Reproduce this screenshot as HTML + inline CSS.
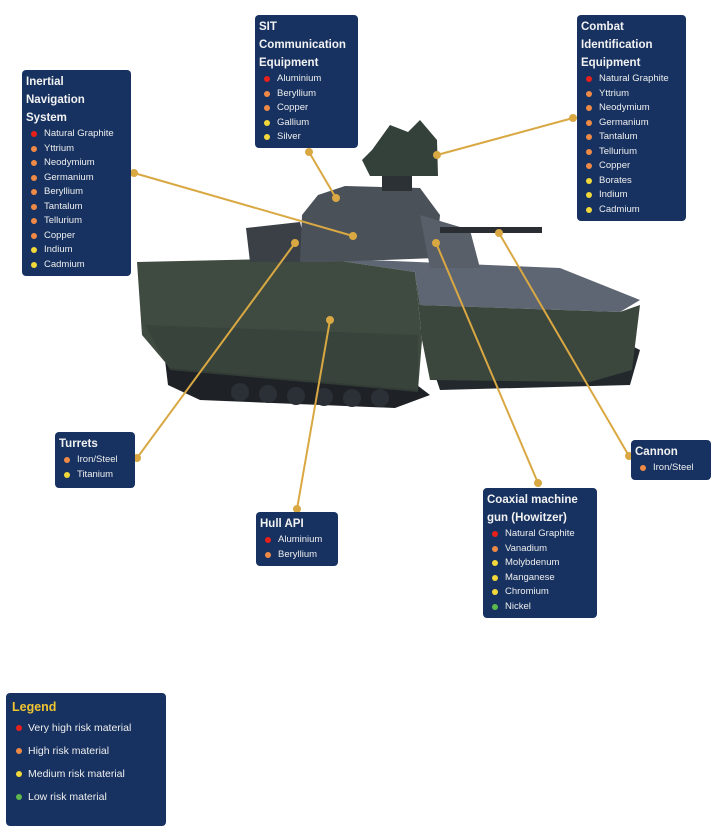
<!DOCTYPE html>
<html><head><meta charset="utf-8"><style>
html,body{margin:0;padding:0;background:#fff;}
body{width:713px;height:830px;position:relative;overflow:hidden;font-family:"Liberation Sans",sans-serif;}
.b{position:absolute;background:#173260;border-radius:4px;color:#fff;box-sizing:border-box;padding:3px 4px;}
.t{font-size:11.5px;font-weight:bold;line-height:18px;color:#f2f2f2;}
.i{font-size:9.5px;line-height:14.5px;padding-left:18px;position:relative;color:#eee;white-space:nowrap;}
.i:before{content:"";position:absolute;left:5px;top:4px;width:6px;height:6px;border-radius:50%;background:var(--c);}
.r{--c:#e8201c}.o{--c:#ee8a45}.y{--c:#f2d83a}.g{--c:#5cb84a}
.lg .i{line-height:23px;font-size:10.5px;padding-left:16px;}
.lg .i:before{top:8px;left:4px;}
svg{position:absolute;left:0;top:0;}
</style></head><body>
<svg width="713" height="830">
<g>
<polygon points="165,360 400,372 430,395 395,408 200,400 168,385" fill="#1e2226"/>
<g fill="#2b3036"><circle cx="240" cy="392" r="9"/><circle cx="268" cy="394" r="9"/><circle cx="296" cy="396" r="9"/><circle cx="324" cy="397" r="9"/><circle cx="352" cy="398" r="9"/><circle cx="380" cy="398" r="9"/></g>
<polygon points="420,330 600,330 640,350 630,385 440,390" fill="#23282c"/>
<polygon points="320,258 560,268 640,300 620,312 420,305 415,272" fill="#5d6672"/>
<polygon points="415,272 420,305 620,312 640,305 632,370 590,382 430,380 422,340" fill="#3b463d"/>
<polygon points="137,262 320,258 415,272 422,340 418,390 170,368 142,335" fill="#3f4b40"/>
<polygon points="145,325 418,335 418,392 170,370" fill="#37423a" opacity="0.8"/>
<polygon points="246,228 300,222 310,262 250,262" fill="#3b4047"/>
<polygon points="302,215 318,195 345,186 420,188 440,215 436,258 330,262 300,262" fill="#4b5159"/>
<polygon points="420,215 470,230 480,268 430,268" fill="#585f69"/>
<rect x="440" y="227" width="102" height="6" fill="#2a2e33"/>
<polygon points="372,150 390,125 408,132 420,120 437,140 438,176 370,176 362,160" fill="#34403a"/>
<rect x="382" y="176" width="30" height="15" fill="#2c3136"/>
</g>
<g stroke="#d9a843" stroke-width="2" fill="#d9a843">
<line x1="134" y1="173" x2="353" y2="236"/><circle cx="134" cy="173" r="3"/><circle cx="353" cy="236" r="3"/>
<line x1="309" y1="152" x2="336" y2="198"/><circle cx="309" cy="152" r="3"/><circle cx="336" cy="198" r="3"/>
<line x1="573" y1="118" x2="437" y2="155"/><circle cx="573" cy="118" r="3"/><circle cx="437" cy="155" r="3"/>
<line x1="137" y1="458" x2="295" y2="243"/><circle cx="137" cy="458" r="3"/><circle cx="295" cy="243" r="3"/>
<line x1="297" y1="509" x2="330" y2="320"/><circle cx="297" cy="509" r="3"/><circle cx="330" cy="320" r="3"/>
<line x1="538" y1="483" x2="436" y2="243"/><circle cx="538" cy="483" r="3"/><circle cx="436" cy="243" r="3"/>
<line x1="629" y1="456" x2="499" y2="233"/><circle cx="629" cy="456" r="3"/><circle cx="499" cy="233" r="3"/>
</g>
</svg>

<div class="b" style="left:22px;top:70px;width:109px;height:206px;">
<div class="t">Inertial<br>Navigation<br>System</div>
<div class="i r">Natural Graphite</div><div class="i o">Yttrium</div><div class="i o">Neodymium</div><div class="i o">Germanium</div><div class="i o">Beryllium</div><div class="i o">Tantalum</div><div class="i o">Tellurium</div><div class="i o">Copper</div><div class="i y">Indium</div><div class="i y">Cadmium</div>
</div>

<div class="b" style="left:255px;top:15px;width:103px;height:133px;">
<div class="t">SIT<br>Communication<br>Equipment</div>
<div class="i r">Aluminium</div><div class="i o">Beryllium</div><div class="i o">Copper</div><div class="i y">Gallium</div><div class="i y">Silver</div>
</div>

<div class="b" style="left:577px;top:15px;width:109px;height:206px;">
<div class="t">Combat<br>Identification<br>Equipment</div>
<div class="i r">Natural Graphite</div><div class="i o">Yttrium</div><div class="i o">Neodymium</div><div class="i o">Germanium</div><div class="i o">Tantalum</div><div class="i o">Tellurium</div><div class="i o">Copper</div><div class="i y">Borates</div><div class="i y">Indium</div><div class="i y">Cadmium</div>
</div>

<div class="b" style="left:55px;top:432px;width:80px;height:56px;">
<div class="t">Turrets</div>
<div class="i o">Iron/Steel</div><div class="i y">Titanium</div>
</div>

<div class="b" style="left:256px;top:512px;width:82px;height:54px;">
<div class="t">Hull API</div>
<div class="i r">Aluminium</div><div class="i o">Beryllium</div>
</div>

<div class="b" style="left:631px;top:440px;width:80px;height:40px;">
<div class="t">Cannon</div>
<div class="i o">Iron/Steel</div>
</div>

<div class="b" style="left:483px;top:488px;width:114px;height:130px;">
<div class="t">Coaxial machine<br>gun (Howitzer)</div>
<div class="i r">Natural Graphite</div><div class="i o">Vanadium</div><div class="i y">Molybdenum</div><div class="i y">Manganese</div><div class="i y">Chromium</div><div class="i g">Nickel</div>
</div>

<div class="b lg" style="left:6px;top:693px;width:160px;height:133px;padding:4px 6px;">
<div class="t" style="color:#f0c531;font-size:12.5px;line-height:20px;">Legend</div>
<div class="i r">Very high risk material</div>
<div class="i o">High risk material</div>
<div class="i y">Medium risk material</div>
<div class="i g">Low risk material</div>
</div>
</body></html>
